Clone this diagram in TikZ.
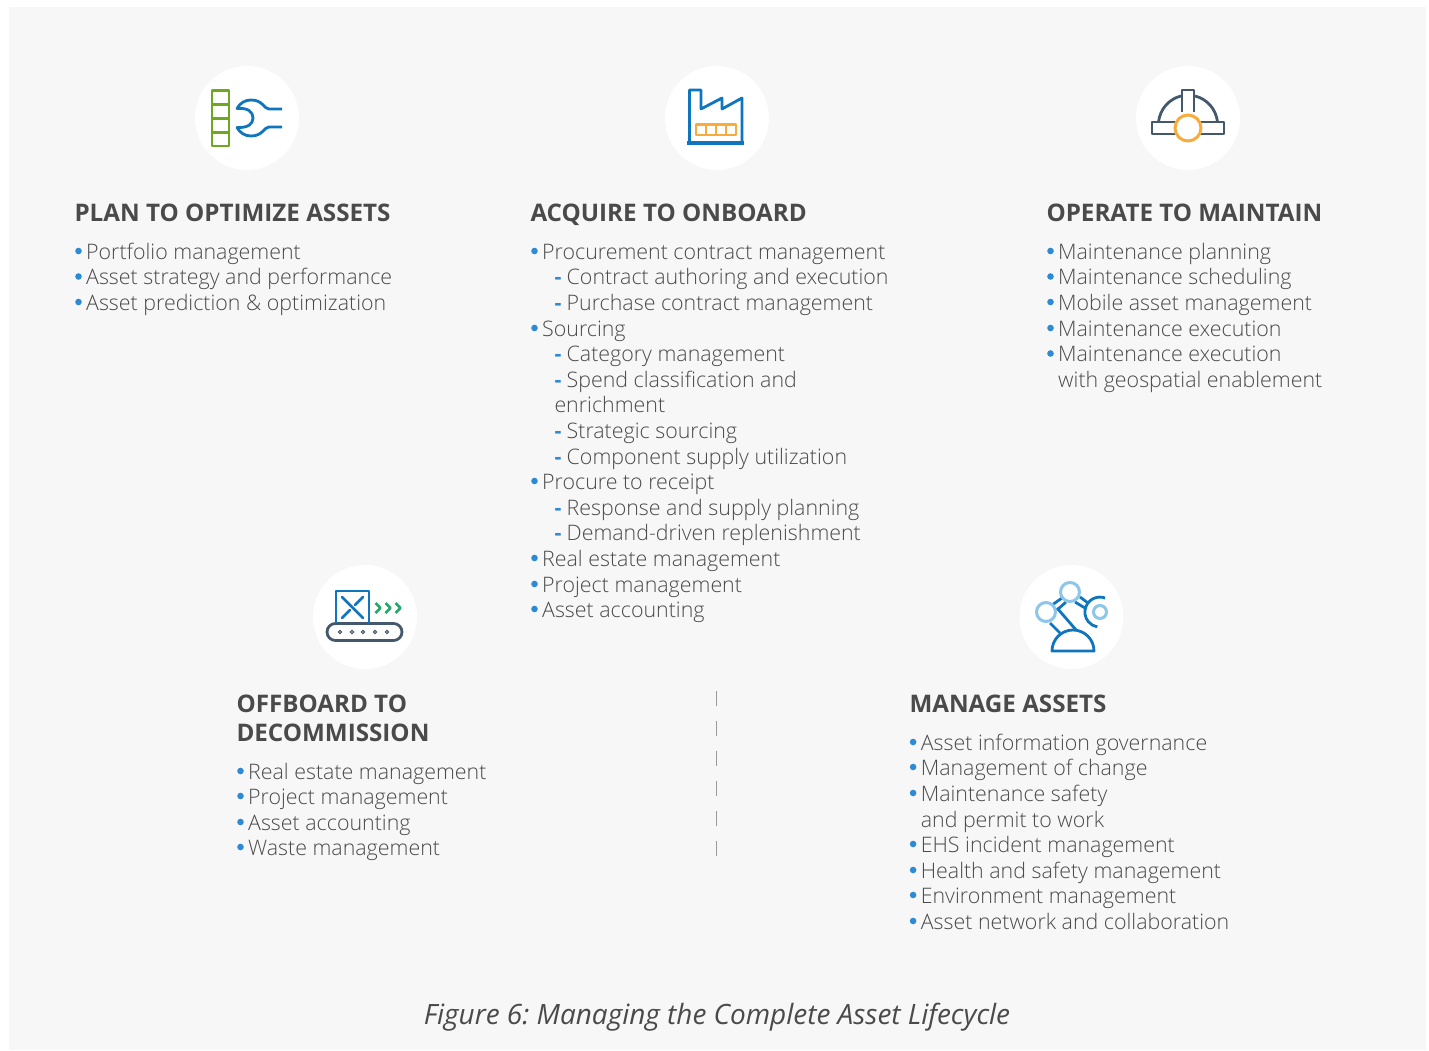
\documentclass[tikz,border=0pt]{standalone}
\usepackage{fontspec}
\setmainfont{Open Sans}
\newfontfamily\lightfont{Open Sans Light}
\definecolor{panel}{HTML}{F7F7F7}
\definecolor{txt}{HTML}{4A4A4A}
\definecolor{bluea}{HTML}{0F76BE}
\definecolor{bull}{HTML}{2E8AD2}
\definecolor{greena}{HTML}{6FA81E}
\definecolor{greenb}{HTML}{25A96B}
\definecolor{orangea}{HTML}{F7AC3B}
\definecolor{slatea}{HTML}{44586B}
\definecolor{skya}{HTML}{8CC6E8}
\newcounter{tn}
\tikzset{
  base/.style={inner sep=0pt,outer sep=0pt,anchor=base west,text=txt},
  head/.style={base,font=\fontsize{24.2}{29}\selectfont\bfseries},
  body/.style={base,font=\fontsize{21.38}{26}\lightfont},
  bulletmark/.style={circle,fill=bull,draw=none,minimum size=6.6pt,inner sep=0pt,outer sep=0pt},
  disc/.style={circle,fill=white,draw=none,minimum size=104pt,inner sep=0pt},
  ico/.style={line width=2.8pt,line join=round},
}
\newcommand{\hd}[3]{\stepcounter{tn}\node[head] (t\thetn) at (#1-0.5,#2+1) {#3};}
\newcommand{\bl}[3]{\stepcounter{tn}\node[bulletmark] (b\thetn) at (#1+3.5,#2-8) {};\node[body] (t\thetn) at (#1+11.2,#2) {#3};}
\newcommand{\dsh}[3]{\stepcounter{tn}\node[base,font=\fontsize{21.4}{26}\selectfont\bfseries,text=bull] (b\thetn) at (#1,#2) {-};\node[body] (t\thetn) at (#1+12.2,#2) {#3};}
\newcommand{\pl}[3]{\stepcounter{tn}\node[body] (t\thetn) at (#1,#2) {#3};}
\begin{document}
\begin{tikzpicture}[x=1pt,y=-1pt]
\useasboundingbox (0,0) rectangle (1429,1051);
\fill[white] (0,0) rectangle (1429,1051);
\fill[panel] (9,7) rectangle (1426,1050);
% discs
\node[disc] (d1) at (247,118) {};
\node[disc] (d2) at (717,118) {};
\node[disc] (d3) at (1188,118) {};
\node[disc] (d4) at (365,617) {};
\node[disc] (d5) at (1071.5,617) {};
% icon 1
\draw[ico,greena] (212,90.5) rectangle (229,146);
\draw[ico,greena,line width=2.4pt] (212,104.5) -- (229,104.5) (212,118.5) -- (229,118.5) (212,132.5) -- (229,132.5);
\draw[ico,bluea] (282,109) -- (269,109) .. controls (264,109) and (263,100) .. (251,100) .. controls (245,100) and (240,103) .. (237,108.5) .. controls (248,107.5) and (253,112) .. (253,118) .. controls (253,124) and (248,128) .. (237,127.5) .. controls (240,133) and (245,136) .. (251,136) .. controls (263,136) and (264,127) .. (269,127) -- (282,127);
% icon 2
\draw[ico,bluea] (689.5,142) -- (689.5,90) -- (701,90) -- (701,109) -- (722,98) -- (722,109) -- (742,98) -- (742,142);
\draw[line width=3.4pt,bluea] (687,143) -- (744,143);
\draw[ico,orangea] (696,124.5) rectangle (736,135);
\draw[ico,orangea,line width=1.6pt] (706,124.5) -- (706,135) (716,124.5) -- (716,135) (726,124.5) -- (726,135);
% icon 3
\draw[ico,slatea] (1152,122) rectangle (1224,134);
\draw[ico,slatea] (1158.5,122) .. controls (1160,109) and (1169,99) .. (1181,96);
\draw[ico,slatea] (1217.5,122) .. controls (1216,109) and (1207,99) .. (1195,96);
\draw[ico,slatea] (1182,112) -- (1182,90) -- (1194,90) -- (1194,112);
\draw[line width=3pt,orangea,fill=white] (1188,128) circle (13);
% icon 4
\draw[ico,slatea,rounded corners=8.5pt] (327,623.5) rectangle (402,640.5);
\foreach \x in {340,352,363,375,387} \draw[slatea,line width=1pt] (\x,632) circle (1.6);
\draw[ico,bluea] (336,623) -- (336,591) -- (369,591) -- (369,623);
\draw[ico,bluea,line cap=round] (342,597) -- (363,618) (363,597) -- (355,605) (350,610) -- (342,618);
\foreach \x in {0,10,20} \draw[ico,greenb] (375.5+\x,603) -- (380.5+\x,608) -- (375.5+\x,613);
% icon 5
\draw[ico,bluea] (1057,608) -- (1077,631) (1050,623) -- (1060,633);
\draw[ico,bluea] (1052,605) -- (1062,598) (1057,610) -- (1066,602);
\draw[ico,bluea] (1080,597) -- (1088,603) (1075,602) -- (1085,608);
\draw[ico,bluea] (1105,598) arc (-70:-260:15);
\draw[ico,bluea,fill=white] (1052,651) arc (180:360:21) -- cycle;
\draw[ico,skya,line width=3pt,fill=white] (1046,612) circle (9.5);
\draw[ico,skya,line width=3pt,fill=white] (1070,592) circle (9.5);
\draw[ico,skya,line width=3pt,fill=white] (1100,612) circle (6.5);
% column 1
\hd{75}{221}{PLAN TO OPTIMIZE ASSETS}
\bl{75}{259}{Portfolio management}
\bl{75}{284.5}{Asset strategy and performance}
\bl{75}{310}{Asset prediction \& optimization}
% column 2
\hd{531}{221}{ACQUIRE TO ONBOARD}
\bl{531}{259}{Procurement contract management}
\dsh{554.5}{284.5}{Contract authoring and execution}
\dsh{554.5}{310}{Purchase contract management}
\bl{531}{336}{Sourcing}
\dsh{554.5}{361.5}{Category management}
\dsh{554.5}{387}{Spend classification and}
\pl{554.5}{412.5}{enrichment}
\dsh{554.5}{438}{Strategic sourcing}
\dsh{554.5}{464}{Component supply utilization}
\bl{531}{489}{Procure to receipt}
\dsh{554.5}{515}{Response and supply planning}
\dsh{554.5}{540}{Demand-driven replenishment}
\bl{531}{566}{Real estate management}
\bl{531}{592}{Project management}
\bl{531}{617}{Asset accounting}
% column 3
\hd{1047}{221}{OPERATE TO MAINTAIN}
\bl{1047}{259}{Maintenance planning}
\bl{1047}{284.5}{Maintenance scheduling}
\bl{1047}{310}{Mobile asset management}
\bl{1047}{336}{Maintenance execution}
\bl{1047}{361.5}{Maintenance execution}
\pl{1058.2}{387}{with geospatial enablement}
% column 4
\hd{237}{711}{OFFBOARD TO}
\hd{237}{740}{DECOMMISSION}
\bl{237}{779}{Real estate management}
\bl{237}{804}{Project management}
\bl{237}{830}{Asset accounting}
\bl{237}{855}{Waste management}
% column 5
\hd{910}{711}{MANAGE ASSETS}
\bl{909.6}{750}{Asset information governance}
\bl{909.6}{775}{Management of change}
\bl{909.6}{801}{Maintenance safety}
\pl{920.8}{827}{and permit to work}
\bl{909.6}{852}{EHS incident management}
\bl{909.6}{878}{Health and safety management}
\bl{909.6}{903}{Environment management}
\bl{909.6}{929}{Asset network and collaboration}
% divider
\coordinate (ds) at (716.6,691);
\coordinate (de) at (716.6,856);
\draw[line width=1pt,gray!80,dash pattern=on 15pt off 15pt] (ds) -- (de);
% caption
\node[base,anchor=base,font=\fontsize{27.95}{32}\selectfont\itshape\frenchspacing] (cap) at (717,1024) {Figure 6: Managing the Complete Asset Lifecycle};
\end{tikzpicture}
\end{document}
